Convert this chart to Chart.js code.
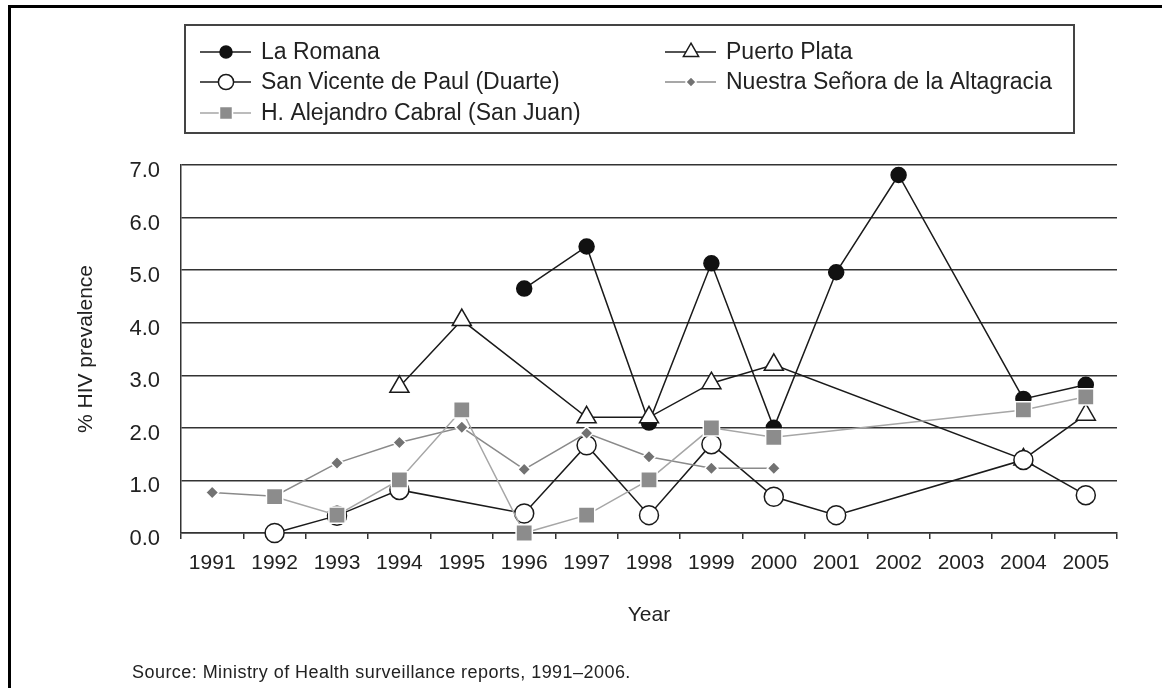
<!DOCTYPE html>
<html>
<head>
<meta charset="utf-8">
<title>HIV prevalence by hospital, 1991–2005</title>
<script src="https://cdn.jsdelivr.net/npm/chart.js@4.4.1/dist/chart.umd.min.js"></script>
<style>
  html, body { margin: 0; padding: 0; background: #fff; }
  #wrap { position: relative; width: 1162px; height: 688px; overflow: hidden; font-family: "Liberation Sans", Arial, sans-serif; }
  #frame { position: absolute; left: 8px; top: 5px; width: 1300px; height: 800px; border-left: 3px solid #000; border-top: 3px solid #000; }
  #chart { position: absolute; left: 0; top: 0; }
  #source { position: absolute; left: 132px; top: 662px; font-size: 18px; letter-spacing: 0.45px; color: #222; white-space: nowrap; }
</style>
</head>
<body>
<div id="wrap">
  <div id="frame"></div>
  <canvas id="chart" width="1162" height="688"></canvas>
  <div id="source">Source: Ministry of Health surveillance reports, 1991–2006.</div>
</div>
<script>
const years = ["1991", "1992", "1993", "1994", "1995", "1996", "1997", "1998", "1999", "2000", "2001", "2002", "2003", "2004", "2005"];

// % HIV prevalence (null = no survey that year)
const laRomana    = [null, null, null, null, null, 4.65, 5.45, 2.1, 5.13, 2.0, 4.96, 6.81, null, 2.55, 2.82];
const puertoPlata = [null, null, null, 2.78, 4.05, null, 2.2, 2.2, 2.85, 3.2, null, null, null, 1.4, 2.25];
const sanVicente  = [null, 0.0, 0.33, 0.82, null, 0.37, 1.67, 0.34, 1.69, 0.69, 0.34, null, null, 1.39, 0.72];
const altagracia  = [0.77, 0.7, 1.33, 1.72, 2.01, 1.21, 1.9, 1.45, 1.23, 1.23, null, null, null, null, null];
const sanJuan     = [null, 0.69, 0.34, 1.01, 2.34, 0.0, 0.34, 1.01, 2.0, 1.82, null, null, null, 2.34, 2.59];

const Y_MIN = 0;
const Y_MAX = 7;
const Y_STEP = 1;

const FONT = '"Liberation Sans", Arial, sans-serif';
const INK = "#222";
const RULE = "#333";

Chart.defaults.font.family = FONT;
Chart.defaults.color = INK;

// legend layout: box plus the slot (column,row) of each dataset
const legendBox = { left: 185, top: 25, right: 1074, bottom: 133 };
const legendColX = [200, 665];
const legendRowY = [52, 82, 113];

function markerPath(ctx, style, x, y, r) {
  ctx.beginPath();
  if (style === "circle") {
    ctx.arc(x, y, r, 0, Math.PI * 2);
  } else if (style === "triangle") {
    ctx.moveTo(x, y - r);
    ctx.lineTo(x + r * 0.866, y + r / 2);
    ctx.lineTo(x - r * 0.866, y + r / 2);
    ctx.closePath();
  } else if (style === "rect") {
    const s = r * Math.SQRT1_2;
    ctx.rect(x - s, y - s, 2 * s, 2 * s);
  } else {
    ctx.moveTo(x - r, y);
    ctx.lineTo(x, y - r);
    ctx.lineTo(x + r, y);
    ctx.lineTo(x, y + r);
    ctx.closePath();
  }
}

const boxLegend = {
  id: "boxLegend",
  afterDraw(chart) {
    const ctx = chart.ctx;
    ctx.save();
    ctx.strokeStyle = "#444";
    ctx.lineWidth = 2;
    ctx.strokeRect(legendBox.left, legendBox.top, legendBox.right - legendBox.left, legendBox.bottom - legendBox.top);
    ctx.font = "23px " + FONT;
    ctx.textBaseline = "middle";
    ctx.textAlign = "left";
    chart.data.datasets.forEach((ds) => {
      const x0 = legendColX[ds.slot[0]];
      const y = legendRowY[ds.slot[1]];
      ctx.strokeStyle = ds.borderColor;
      ctx.lineWidth = ds.borderWidth;
      ctx.beginPath();
      ctx.moveTo(x0, y);
      ctx.lineTo(x0 + 51, y);
      ctx.stroke();
      markerPath(ctx, ds.pointStyle, x0 + 26, y, ds.pointRadius * 0.8);
      ctx.fillStyle = ds.pointBackgroundColor;
      ctx.fill();
      ctx.strokeStyle = ds.pointBorderColor;
      ctx.lineWidth = ds.pointBorderWidth;
      ctx.stroke();
      ctx.fillStyle = INK;
      ctx.fillText(ds.label, x0 + 61, y + 1);
    });
    ctx.restore();
  },
};

const series = (label, data, o) => ({
  label,
  data,
  spanGaps: true,
  clip: false,
  borderWidth: 1.5,
  pointBorderWidth: 1.5,
  pointHoverRadius: o.pointRadius,
  ...o,
});

new Chart(document.getElementById("chart"), {
  type: "line",
  data: {
    labels: years,
    datasets: [
      series("La Romana", laRomana, { slot: [0, 0], order: 4, borderColor: "#1a1a1a", pointStyle: "circle", pointRadius: 7.5, pointBackgroundColor: "#111", pointBorderColor: "#111" }),
      series("Puerto Plata", puertoPlata, { slot: [1, 0], order: 3, borderColor: "#1a1a1a", pointStyle: "triangle", pointRadius: 11, pointBackgroundColor: "#fff", pointBorderColor: "#1a1a1a" }),
      series("San Vicente de Paul (Duarte)", sanVicente, { slot: [0, 1], order: 2, borderColor: "#1a1a1a", pointStyle: "circle", pointRadius: 9.5, pointBackgroundColor: "#fff", pointBorderColor: "#1a1a1a" }),
      series("Nuestra Señora de la Altagracia", altagracia, { slot: [1, 1], order: 1, borderColor: "#8a8a8a", pointStyle: "rectRot", pointRadius: 6.5, pointBackgroundColor: "#727272", pointBorderColor: "#fff" }),
      series("H. Alejandro Cabral (San Juan)", sanJuan, { slot: [0, 2], order: 0, borderColor: "#a6a6a6", pointStyle: "rect", pointRadius: 11.5, pointBackgroundColor: "#8c8c8c", pointBorderColor: "#fff" }),
    ],
  },
  options: {
    responsive: false,
    animation: false,
    events: [],
    layout: { padding: { top: 165, right: 45, left: 0, bottom: 0 } },
    plugins: { legend: { display: false }, tooltip: { enabled: false } },
    scales: {
      x: {
        type: "category",
        offset: true,
        grid: { offset: true, drawOnChartArea: false, drawTicks: true, tickLength: 6, color: RULE, lineWidth: 1.5 },
        border: { color: RULE, width: 1.5 },
        ticks: { font: { size: 21 }, color: INK, padding: 12, maxRotation: 0, autoSkip: false },
        title: { display: true, text: "Year", font: { size: 21 }, color: INK, padding: { top: 0, bottom: 60 } },
        afterFit: (scale) => { scale.height = 155; },
      },
      y: {
        min: Y_MIN,
        max: Y_MAX,
        grid: { color: RULE, lineWidth: 1.5, drawTicks: false },
        border: { color: RULE, width: 1.5 },
        ticks: { stepSize: Y_STEP, font: { size: 22 }, color: INK, padding: 21, labelOffset: 6, callback: (v) => v.toFixed(1) },
        title: { display: true, text: "% HIV prevalence", font: { size: 21 }, color: INK, padding: { top: 74, bottom: 0 } },
        afterFit: (scale) => { scale.width = 181; },
      },
    },
  },
  plugins: [boxLegend],
});
</script>
</body>
</html>
